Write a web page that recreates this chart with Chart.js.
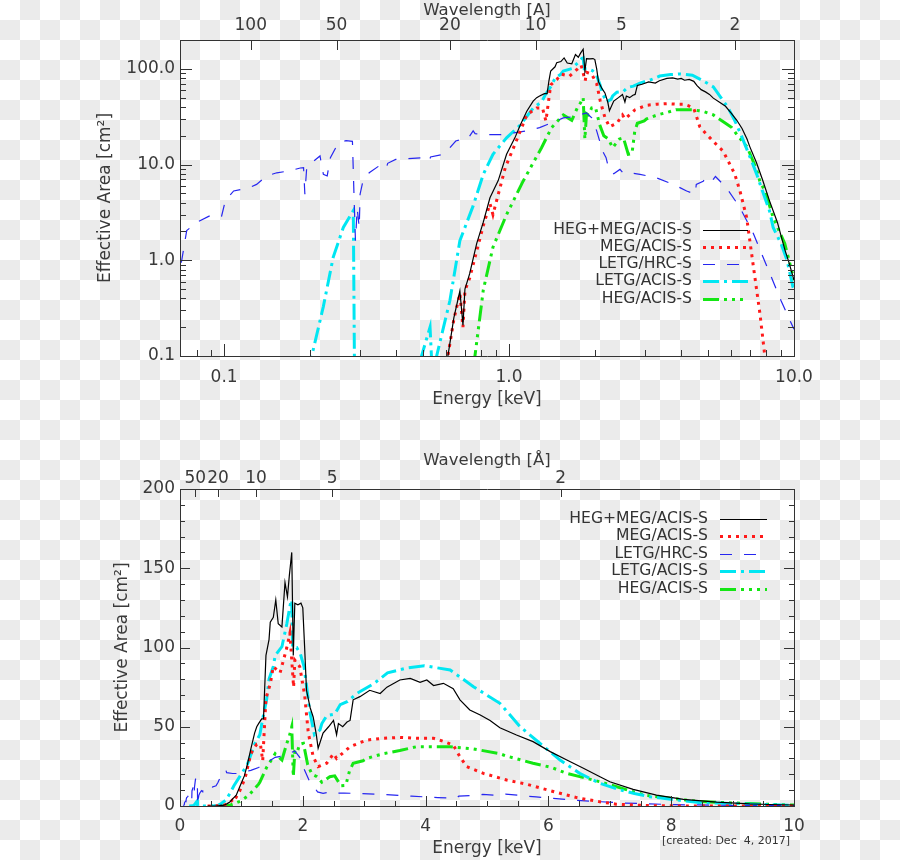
<!DOCTYPE html>
<html>
<head>
<meta charset="utf-8">
<script src="https://cdn.jsdelivr.net/npm/chart.js@4/dist/chart.umd.min.js"></script>
<style>
  html, body { margin: 0; padding: 0; }
  body {
    width: 900px; height: 860px; position: relative; overflow: hidden;
    background: repeating-conic-gradient(#ebebeb 0 25%, #ffffff 0 50%) 0 0 / 40px 40px;
  }
  canvas { position: absolute; left: 0; }
  #topChart { top: 0; }
  #bottomChart { top: 430px; }
  #created {
    position: absolute; left: 662px; top: 834px;
    font: 11px 'DejaVu Sans', sans-serif; color: #333; white-space: pre;
  }
</style>
</head>
<body>
<canvas id="topChart" width="900" height="430"></canvas>
<canvas id="bottomChart" width="900" height="430"></canvas>
<div id="created">[created: Dec  4, 2017]</div>
<script>
// energies in keV, effective areas in cm^2
var hegMegE = [0.45, 0.61, 0.64, 0.672, 0.689, 0.70, 0.727, 0.77, 0.812, 0.857, 0.916, 0.98, 1.048, 1.096, 1.154, 1.215, 1.25, 1.28, 1.33, 1.36, 1.38, 1.40, 1.45, 1.47, 1.52, 1.56, 1.60, 1.66, 1.71, 1.75, 1.78, 1.82, 1.845, 1.87, 1.92, 1.97, 2.00, 2.03, 2.06, 2.12, 2.17, 2.22, 2.25, 2.33, 2.42, 2.50, 2.55, 2.58, 2.65, 2.72, 2.77, 2.82, 2.93, 3.09, 3.26, 3.37, 3.58, 3.75, 3.91, 4.02, 4.13, 4.29, 4.45, 4.56, 4.72, 4.89, 5.05, 5.21, 5.48, 5.75, 6.03, 6.30, 6.57, 6.84, 7.0, 7.38, 7.76, 8.2, 8.74, 9.28, 9.6, 10.0];
var hegMegA = [0.01, 0.1, 0.25, 0.48, 0.21, 0.5, 0.72, 1.5, 2.5, 4.5, 6.8, 12.8, 19, 26, 36, 46, 50, 52, 55, 55, 75, 95, 105, 116, 119, 130, 115, 113, 141, 132, 145, 160, 95, 128, 127, 128, 125, 100, 73, 62, 56, 45, 36.4, 46, 50, 54, 45, 52, 50, 53, 54, 67, 69, 73, 71, 75, 79.5, 80.5, 78, 79.5, 76, 77.4, 74, 67, 60.6, 57.4, 54, 49.4, 44.8, 40.6, 34.3, 29, 23.8, 18.5, 15.3, 10.5, 6.9, 4.2, 2.5, 1.3, 0.95, 0.62];

var megE = [0.45, 0.61, 0.64, 0.672, 0.689, 0.70, 0.727, 0.812, 0.857, 0.878, 0.97, 1.06, 1.154, 1.25, 1.31, 1.347, 1.40, 1.47, 1.52, 1.63, 1.74, 1.79, 1.85, 1.87, 1.95, 2.03, 2.09, 2.17, 2.25, 2.39, 2.50, 2.55, 2.77, 3.04, 3.31, 3.58, 3.85, 4.13, 4.23, 4.45, 4.56, 4.67, 4.94, 5.32, 5.64, 6.19, 6.46, 6.82, 7.1, 7.59, 7.9, 8.5, 10.0];
var megA = [0.01, 0.1, 0.24, 0.45, 0.2, 0.48, 0.65, 2.3, 3.9, 3.0, 9.3, 17.6, 33, 39, 39, 28.5, 68, 77, 88, 84, 100, 109, 75, 92, 88, 70, 46, 31, 24.8, 27, 33, 30, 37.4, 41.6, 42.7, 43.3, 42.7, 42.7, 41.6, 38.5, 31, 24.8, 20.6, 16.4, 13.8, 8, 5.3, 2.8, 1.17, 0.28, 0.1, 0.02, 0.005];

var letgHrcE = [0.055, 0.07, 0.0739, 0.08, 0.0916, 0.098, 0.101, 0.108, 0.123, 0.130, 0.141, 0.153, 0.170, 0.185, 0.19, 0.192, 0.195, 0.2, 0.217, 0.223, 0.23, 0.236, 0.2515, 0.268, 0.282, 0.286, 0.289, 0.293, 0.298, 0.30, 0.307, 0.323, 0.35, 0.37, 0.375, 0.4, 0.5, 0.526, 0.53, 0.587, 0.62, 0.65, 0.68, 0.72, 0.748, 0.76, 0.857, 0.93, 1.04, 1.154, 1.28, 1.41, 1.55, 1.69, 1.87, 1.95, 2.03, 2.13, 2.19, 2.24, 2.33, 2.45, 2.52, 2.67, 2.88, 3.28, 3.77, 4.2, 4.5, 4.54, 4.8, 4.93, 5.15, 5.3, 5.8, 6.46, 7.2, 8.05, 9.0, 10.0];
var letgHrcA = [0.2, 0.78, 2.04, 2.49, 3.04, 2.9, 4.2, 5.3, 5.75, 6.2, 7.6, 8.2, 8.6, 9.2, 9.3, 4.9, 9.5, 10.1, 12.3, 7.9, 7.6, 11.8, 16.8, 17.8, 17.5, 4.2, 1.6, 3.5, 2.2, 4.9, 6.7, 8.2, 9.7, 9.0, 10.3, 11.3, 11.8, 11, 12, 12.8, 15, 17.6, 18.3, 19, 22.5, 21, 20.5, 20.5, 21.4, 22.5, 24.3, 27.3, 30.7, 31.7, 34.7, 30.7, 22.5, 13.8, 11.8, 8.9, 8, 8.9, 8.1, 8.2, 7.9, 7.3, 6.2, 5.3, 4.9, 6.2, 6.7, 7.3, 6.7, 7.5, 5.7, 3.56, 1.9, 0.85, 0.38, 0.19];

var letgAcisE = [0.15, 0.203, 0.223, 0.2415, 0.262, 0.284, 0.287, 0.30, 0.45, 0.493, 0.528, 0.54, 0.557, 0.62, 0.672, 0.748, 0.812, 0.878, 0.98, 1.096, 1.215, 1.30, 1.347, 1.41, 1.45, 1.52, 1.55, 1.66, 1.74, 1.80, 1.82, 1.835, 1.90, 1.96, 2.02, 2.09, 2.11, 2.19, 2.28, 2.31, 2.39, 2.52, 2.61, 2.73, 2.88, 3.15, 3.38, 3.69, 3.98, 4.40, 4.78, 5.21, 5.54, 5.86, 6.19, 6.51, 6.84, 7.17, 7.4, 7.65, 8.2, 8.45, 9.0, 9.46, 9.91, 10.0];
var letgAcisA = [0.01, 0.1, 0.33, 1.08, 2.2, 3.3, 0.05, 0.01, 0.01, 0.1, 0.2, 0.05, 0.1, 0.38, 1.6, 3.7, 7.9, 12.8, 19, 26, 39, 45, 55, 67, 80, 88, 95, 100.5, 115, 128, 130, 100, 100, 96, 88, 67, 60, 45, 48, 52, 57, 58, 64, 66, 71, 77, 84, 87, 88.5, 85.8, 75.3, 64.8, 50, 39.6, 29, 20.6, 14.3, 10.1, 7.9, 5.9, 3.3, 2.2, 1.5, 0.99, 0.53, 0.5];

var hegE = [0.6, 0.759, 0.812, 0.878, 0.98, 1.12, 1.28, 1.30, 1.41, 1.52, 1.55, 1.63, 1.66, 1.74, 1.78, 1.82, 1.845, 1.87, 1.90, 1.95, 2.01, 2.08, 2.15, 2.23, 2.31, 2.44, 2.52, 2.62, 2.70, 2.76, 2.82, 2.98, 3.04, 3.31, 3.58, 3.85, 4.13, 4.40, 4.64, 4.78, 5.21, 5.3, 5.75, 6.05, 6.30, 6.84, 7.38, 7.59, 7.93, 8.45, 9.28, 10.0];
var hegA = [0.01, 0.1, 0.49, 1.37, 3.0, 6.7, 13.8, 15, 24.3, 31, 33, 30, 29, 39.6, 44, 50, 18.5, 34, 33, 39, 39.6, 26, 20, 18.5, 15, 18.5, 19, 12.8, 13, 22, 27, 28.5, 30, 33, 35, 37.4, 37.4, 37.4, 36.5, 36, 33, 31.7, 27, 24.3, 20.6, 15.3, 9, 6.7, 5.2, 2.8, 1.5, 0.62];

var wavelengthTop = [100, 50, 20, 10, 5, 2];      // Angstrom
var wavelengthBottom = [50, 20, 10, 5, 2];
var energyTicksLog = [0.1, 1, 10];
var areaTicksLog = [0.1, 1, 10, 100];
var energyTicksLin = [0, 2, 4, 6, 8, 10];
var areaTicksLin = [0, 50, 100, 150, 200];
var HC = 12.398; // keV * Angstrom

Chart.defaults.font.family = "'DejaVu Sans', sans-serif";
Chart.defaults.font.size = 17;
Chart.defaults.color = '#3a3a3a';

function points(xs, ys) {
  return xs.map(function (x, i) { return {x: x, y: ys[i]}; });
}

function makeDatasets() {
  var sets = [
    {label: 'HEG+MEG/ACIS-S', data: points(hegMegE, hegMegA), borderColor: '#000000', borderWidth: 1.2, borderDash: []},
    {label: 'MEG/ACIS-S', data: points(megE, megA), borderColor: '#ff1a1a', borderWidth: 3, borderDash: [3, 5]},
    {label: 'LETG/HRC-S', data: points(letgHrcE, letgHrcA), borderColor: '#2626f0', borderWidth: 1.2, borderDash: [12, 12]},
    {label: 'LETG/ACIS-S', data: points(letgAcisE, letgAcisA), borderColor: '#00e6f2', borderWidth: 3, borderDash: [16, 5, 3, 5]},
    {label: 'HEG/ACIS-S', data: points(hegE, hegA), borderColor: '#14e614', borderWidth: 3, borderDash: [16, 5, 3, 5, 3, 5, 3, 5]}
  ];
  sets.forEach(function (d) {
    d.pointRadius = 0;
    d.fill = false;
    d.tension = 0;
    d.borderCapStyle = 'butt';
  });
  return sets;
}

function logMinor(lo, hi) {
  var out = [];
  for (var d = 0.01; d < 1000; d *= 10) {
    for (var k = 2; k <= 9; k++) {
      var v = +(k * d).toPrecision(3);
      if (v >= lo && v < hi) out.push(v);
    }
  }
  return out;
}

function linMinor(lo, hi, step) {
  var out = [];
  for (var v = lo; v <= hi + 1e-9; v += step) out.push(+v.toFixed(3));
  return out;
}

// inward tick marks in the IDL style
function tickPlugin(marks) {
  return {
    id: 'tickMarks',
    afterDraw: function (chart) {
      var ctx = chart.ctx, a = chart.chartArea;
      ctx.save();
      ctx.strokeStyle = '#333';
      ctx.lineWidth = 1;
      marks.forEach(function (m) {
        var scale = chart.scales[m.scale];
        m.values.forEach(function (v) {
          var p = Math.round(scale.getPixelForValue(v)) + 0.5;
          ctx.beginPath();
          if (m.side === 'bottom') { ctx.moveTo(p, a.bottom); ctx.lineTo(p, a.bottom - m.len); }
          if (m.side === 'top') { ctx.moveTo(p, a.top); ctx.lineTo(p, a.top + m.len); }
          if (m.side === 'left') { ctx.moveTo(a.left, p); ctx.lineTo(a.left + m.len, p); }
          if (m.side === 'right') { ctx.moveTo(a.right, p); ctx.lineTo(a.right - m.len, p); }
          ctx.stroke();
        });
      });
      ctx.restore();
    }
  };
}

function legendPlugin(textRight, x1, x2, y0, dy) {
  return {
    id: 'sampleLegend',
    afterDatasetsDraw: function (chart) {
      var ctx = chart.ctx;
      ctx.save();
      ctx.font = "15.6px 'DejaVu Sans', sans-serif";
      ctx.textAlign = 'right';
      ctx.textBaseline = 'middle';
      chart.data.datasets.forEach(function (ds, i) {
        var y = Math.round(y0 + i * dy);
        ctx.fillStyle = '#333';
        ctx.fillText(ds.label, textRight, y);
        ctx.strokeStyle = ds.borderColor;
        ctx.lineWidth = ds.borderWidth;
        ctx.lineCap = 'butt';
        ctx.setLineDash(ds.borderDash);
        ctx.beginPath();
        ctx.moveTo(x1, y + 0.5);
        ctx.lineTo(x2, y + 0.5);
        ctx.stroke();
        ctx.setLineDash([]);
      });
      ctx.restore();
    }
  };
}

function fixedTicks(list) {
  return function (scale) {
    scale.ticks = list.map(function (v) { return {value: v}; });
  };
}

function sizeW(w) { return function (s) { s.width = w; }; }
function sizeH(h) { return function (s) { s.height = h; }; }

var noGrid = {display: false, drawTicks: false};
var frame = {display: true, color: '#333', width: 1};

// ---- upper panel: log-log ----
new Chart(document.getElementById('topChart'), {
  type: 'line',
  data: {datasets: makeDatasets()},
  options: {
    responsive: false,
    animation: false,
    layout: {padding: 0},
    plugins: {legend: {display: false}, tooltip: {enabled: false}},
    scales: {
      x: {
        type: 'logarithmic', position: 'bottom', min: 0.07, max: 10,
        grid: noGrid, border: frame,
        afterBuildTicks: fixedTicks(energyTicksLog),
        afterFit: sizeH(74),
        ticks: {autoSkip: false, maxRotation: 0, padding: 11,
          callback: function (v) { return Number(v).toFixed(1); }},
        title: {display: true, text: 'Energy [keV]', padding: {top: 0, bottom: 20}}
      },
      x2: {
        type: 'logarithmic', position: 'top', min: 0.07, max: 10,
        grid: noGrid, border: frame,
        afterBuildTicks: fixedTicks(wavelengthTop.map(function (l) { return HC / l; })),
        afterFit: sizeH(40),
        ticks: {autoSkip: false, maxRotation: 0, padding: 4,
          callback: function (v) { return Math.round(HC / v); }},
        title: {display: true, text: 'Wavelength [A]', font: {size: 16.5}, padding: {top: 1, bottom: 0}}
      },
      y: {
        type: 'logarithmic', position: 'left', min: 0.1, max: 200,
        grid: noGrid, border: frame,
        afterBuildTicks: fixedTicks(areaTicksLog),
        afterFit: sizeW(180),
        ticks: {autoSkip: false, padding: 5,
          callback: function (v) { return Number(v).toFixed(1); }},
        title: {display: true, text: 'Effective Area [cm²]', padding: {top: 95, bottom: 0}}
      },
      y2: {
        type: 'logarithmic', position: 'right', min: 0.1, max: 200,
        grid: noGrid, border: frame,
        afterFit: sizeW(106),
        ticks: {display: false}
      }
    }
  },
  plugins: [
    tickPlugin([
      {scale: 'x', side: 'bottom', values: energyTicksLog, len: 12},
      {scale: 'x', side: 'bottom', values: logMinor(0.07, 10), len: 6},
      {scale: 'x2', side: 'top', values: wavelengthTop.map(function (l) { return HC / l; }), len: 10},
      {scale: 'y', side: 'left', values: areaTicksLog, len: 12},
      {scale: 'y', side: 'left', values: logMinor(0.1, 200), len: 6},
      {scale: 'y', side: 'right', values: areaTicksLog, len: 12},
      {scale: 'y', side: 'right', values: logMinor(0.1, 200), len: 6}
    ]),
    legendPlugin(692, 703, 748, 229.5, 17.25)
  ]
});

// ---- lower panel: linear ----
new Chart(document.getElementById('bottomChart'), {
  type: 'line',
  data: {datasets: makeDatasets()},
  options: {
    responsive: false,
    animation: false,
    layout: {padding: 0},
    plugins: {legend: {display: false}, tooltip: {enabled: false}},
    scales: {
      x: {
        type: 'linear', position: 'bottom', min: 0, max: 10,
        grid: noGrid, border: frame,
        afterBuildTicks: fixedTicks(energyTicksLin),
        afterFit: sizeH(54),
        ticks: {autoSkip: false, maxRotation: 0, padding: 10},
        title: {display: true, text: 'Energy [keV]', padding: {top: 0, bottom: 1}}
      },
      x2: {
        type: 'linear', position: 'top', min: 0, max: 10,
        grid: noGrid, border: frame,
        afterBuildTicks: fixedTicks(wavelengthBottom.map(function (l) { return HC / l; })),
        afterFit: sizeH(59),
        ticks: {autoSkip: false, maxRotation: 0, padding: 0,
          callback: function (v) { return Math.round(HC / v); }},
        title: {display: true, text: 'Wavelength [Å]', font: {size: 16.5}, padding: {top: 21, bottom: 0}}
      },
      y: {
        type: 'linear', position: 'left', min: 0, max: 200,
        grid: noGrid, border: frame,
        afterBuildTicks: fixedTicks(areaTicksLin),
        afterFit: sizeW(180),
        ticks: {autoSkip: false, padding: 5},
        title: {display: true, text: 'Effective Area [cm²]', padding: {top: 112, bottom: 0}}
      },
      y2: {
        type: 'linear', position: 'right', min: 0, max: 200,
        grid: noGrid, border: frame,
        afterFit: sizeW(106),
        ticks: {display: false}
      }
    }
  },
  plugins: [
    tickPlugin([
      {scale: 'x', side: 'bottom', values: energyTicksLin, len: 10},
      {scale: 'x', side: 'bottom', values: linMinor(0, 10, 0.5), len: 5},
      {scale: 'x2', side: 'top', values: wavelengthBottom.map(function (l) { return HC / l; }), len: 8},
      {scale: 'y', side: 'left', values: areaTicksLin, len: 10},
      {scale: 'y', side: 'left', values: linMinor(0, 200, 10), len: 5},
      {scale: 'y', side: 'right', values: areaTicksLin, len: 10},
      {scale: 'y', side: 'right', values: linMinor(0, 200, 10), len: 5}
    ]),
    legendPlugin(708, 720, 767, 89, 17.4)
  ]
});
</script>
</body>
</html>
